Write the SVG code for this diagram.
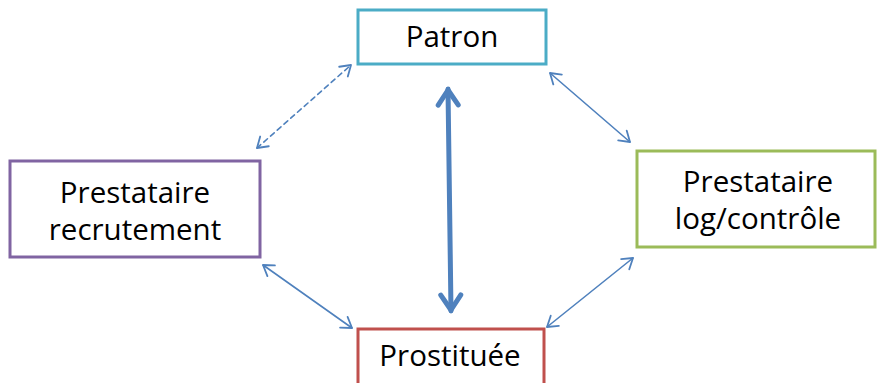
<svg xmlns="http://www.w3.org/2000/svg" width="877" height="383" viewBox="0 0 877 383">
<defs>
<style>
.box{fill:#fff;stroke-width:3}
.t{font-family:"Open Sans","Liberation Sans",sans-serif;font-size:29.5px;fill:#000;text-anchor:middle}
.c{fill:none;stroke:#4F81BD;stroke-width:1.6;stroke-linecap:round}
.d{stroke-dasharray:5 4}
.big{fill:none;stroke:#4F81BD;stroke-width:5;stroke-linecap:round}
</style>
<marker id="ah" viewBox="-12 -8 14 16" markerWidth="14" markerHeight="16" refX="0" refY="0" orient="auto-start-reverse" markerUnits="userSpaceOnUse">
<path d="M-10,-6.5 L0,0 L-10,6.5" fill="none" stroke="#4F81BD" stroke-width="1.8" stroke-linecap="round" stroke-linejoin="round"/>
</marker>
<marker id="bh" viewBox="-20 -14 24 28" markerWidth="24" markerHeight="28" refX="0" refY="0" orient="auto-start-reverse" markerUnits="userSpaceOnUse">
<path d="M-16,-10 L-1,0 L-16,10" fill="none" stroke="#4F81BD" stroke-width="5" stroke-linecap="round" stroke-linejoin="round"/>
</marker>
</defs>
<rect width="877" height="383" fill="#fff"/>
<g id="connectors">
<line class="c d" x1="257" y1="148" x2="351" y2="65" marker-start="url(#ah)" marker-end="url(#ah)"/>
<line class="c" x1="550" y1="73" x2="630" y2="142" marker-start="url(#ah)" marker-end="url(#ah)"/>
<line class="c" x1="263" y1="265" x2="352" y2="328" marker-start="url(#ah)" marker-end="url(#ah)"/>
<line class="c" x1="633" y1="258" x2="547" y2="327" marker-start="url(#ah)" marker-end="url(#ah)"/>
<line class="big" x1="448" y1="89" x2="451" y2="311" marker-start="url(#bh)" marker-end="url(#bh)"/>
</g>
<g id="patron">
<rect class="box" x="358" y="10" width="188" height="54" stroke="#4BACC6"/>
<text class="t" x="452" y="47">Patron</text>
</g>
<g id="recrutement">
<rect class="box" x="10" y="161" width="250" height="96" stroke="#8064A2"/>
<text class="t" x="135" y="203">Prestataire</text>
<text class="t" x="135" y="240">recrutement</text>
</g>
<g id="logcontrole">
<rect class="box" x="637" y="151" width="238" height="96" stroke="#9BBB59"/>
<text class="t" x="758" y="192">Prestataire</text>
<text class="t" x="758" y="229">log/contrôle</text>
</g>
<g id="prostituee">
<rect class="box" x="358" y="329" width="186" height="70" stroke="#C0504D"/>
<text class="t" x="450" y="366">Prostituée</text>
</g>
</svg>
